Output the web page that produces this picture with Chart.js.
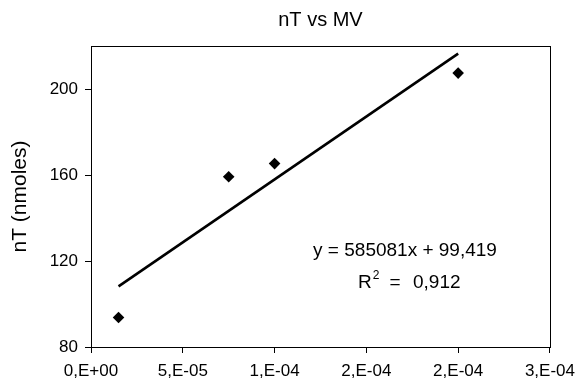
<!DOCTYPE html>
<html>
<head>
<meta charset="utf-8">
<script src="https://cdn.jsdelivr.net/npm/chart.js@4.4.1/dist/chart.umd.min.js"></script>
<style>
  html, body { margin: 0; padding: 0; background: #fff; }
  #wrap { width: 583px; height: 383px; }
</style>
</head>
<body>
<div id="wrap"><canvas id="c" width="583" height="383"></canvas></div>
<script>
// ---- data ----
const mvValues = [1.5e-5, 7.5e-5, 1.0e-4, 2.0e-4];
const ntValues = [93.7, 159.2, 165.3, 207.4];
const trendSlope = 585081;
const trendIntercept = 99.419;
const equationText = 'y = 585081x + 99,419';
const r2Text = '0,912';
const xTickValues = [0, 5e-5, 1e-4, 1.5e-4, 2e-4, 2.5e-4];
const xTickLabels = ['0,E+00', '5,E-05', '1,E-04', '2,E-04', '2,E-04', '3,E-04'];
const yTickValues = [80, 120, 160, 200];
const yTickLabels = ['80', '120', '160', '200'];
const chartTitle = 'nT vs MV';
const yAxisTitle = 'nT (nmoles)';

const FONT = "'Liberation Sans', Arial, sans-serif";

const points = mvValues.map((x, i) => ({ x: x, y: ntValues[i] }));
const xMin = Math.min(...mvValues), xMax = Math.max(...mvValues);
const trend = [xMin, xMax].map(x => ({ x: x, y: trendSlope * x + trendIntercept }));

const boxPlugin = {
  id: 'box',
  afterDatasetsDraw(chart) {
    const { ctx, chartArea: a } = chart;
    ctx.save();
    ctx.strokeStyle = '#000';
    ctx.lineWidth = 1;
    ctx.strokeRect(Math.round(a.left) + 0.5, Math.round(a.top) + 0.5,
                   Math.round(a.right - a.left), Math.round(a.bottom - a.top));
    ctx.restore();
  }
};

const eqPlugin = {
  id: 'eq',
  afterDraw(chart) {
    const { ctx } = chart;
    ctx.save();
    ctx.fillStyle = '#000';
    ctx.textBaseline = 'middle';
    ctx.font = '19px ' + FONT;
    ctx.textAlign = 'center';
    ctx.fillText(equationText, 405, 251);
    // R^2 line
    const y = 283;
    ctx.textAlign = 'left';
    ctx.font = '19px ' + FONT;
    ctx.fillText('R', 358, y);
    const wR = ctx.measureText('R').width;
    ctx.font = '12px ' + FONT;
    ctx.fillText('2', 358 + wR + 1, y - 7);
    ctx.font = '19px ' + FONT;
    ctx.textAlign = 'center';
    ctx.fillText('=', 395, y);
    ctx.textAlign = 'left';
    ctx.fillText(r2Text, 413, y);
    ctx.restore();
  }
};

new Chart(document.getElementById('c'), {
  type: 'scatter',
  data: {
    datasets: [
      {
        type: 'line',
        data: trend,
        borderColor: '#000',
        borderWidth: 2.6,
        pointRadius: 0,
        fill: false,
        order: 2
      },
      {
        data: points,
        pointStyle: 'rectRot',
        pointRadius: 5.8,
        backgroundColor: '#000',
        borderColor: '#000',
        borderWidth: 0,
        order: 1
      }
    ]
  },
  options: {
    responsive: false,
    animation: false,
    devicePixelRatio: 1,
    layout: { padding: { left: 0, right: 27, top: 0, bottom: 0 } },
    plugins: {
      legend: { display: false },
      tooltip: { enabled: false },
      title: {
        display: true,
        text: chartTitle,
        fullSize: false,
        color: '#000',
        font: { family: FONT, size: 20, weight: 'normal', lineHeight: 1.2 },
        padding: { top: 8, bottom: 14 }
      }
    },
    scales: {
      x: {
        type: 'linear',
        min: 0,
        max: 2.5e-4,
        bounds: 'data',
        afterBuildTicks(s) { s.ticks = xTickValues.map(v => ({ value: v })); },
        afterFit(s) { s.height = 36; },
        grid: { display: true, drawOnChartArea: false, drawTicks: true, tickLength: 6, color: '#000', tickColor: '#000' },
        border: { display: true, color: '#000', width: 1 },
        ticks: {
          color: '#000',
          font: { family: FONT, size: 17 },
          padding: 8,
          maxRotation: 0,
          autoSkip: false,
          callback: (v, i) => xTickLabels[i]
        }
      },
      y: {
        type: 'linear',
        min: 80,
        max: 220,
        bounds: 'data',
        afterBuildTicks(s) { s.ticks = yTickValues.map(v => ({ value: v })); },
        afterFit(s) { s.width = 91; },
        grid: { display: true, drawOnChartArea: false, drawTicks: true, tickLength: 6, color: '#000', tickColor: '#000' },
        border: { display: true, color: '#000', width: 1 },
        ticks: {
          color: '#000',
          font: { family: FONT, size: 17 },
          padding: 7,
          autoSkip: false,
          callback: (v, i) => yTickLabels[i]
        },
        title: {
          display: true,
          text: yAxisTitle,
          color: '#000',
          font: { family: FONT, size: 21, weight: 'normal', lineHeight: 1.2 },
          padding: { top: 8, bottom: 0 }
        }
      }
    }
  },
  plugins: [boxPlugin, eqPlugin]
});
</script>
</body>
</html>
